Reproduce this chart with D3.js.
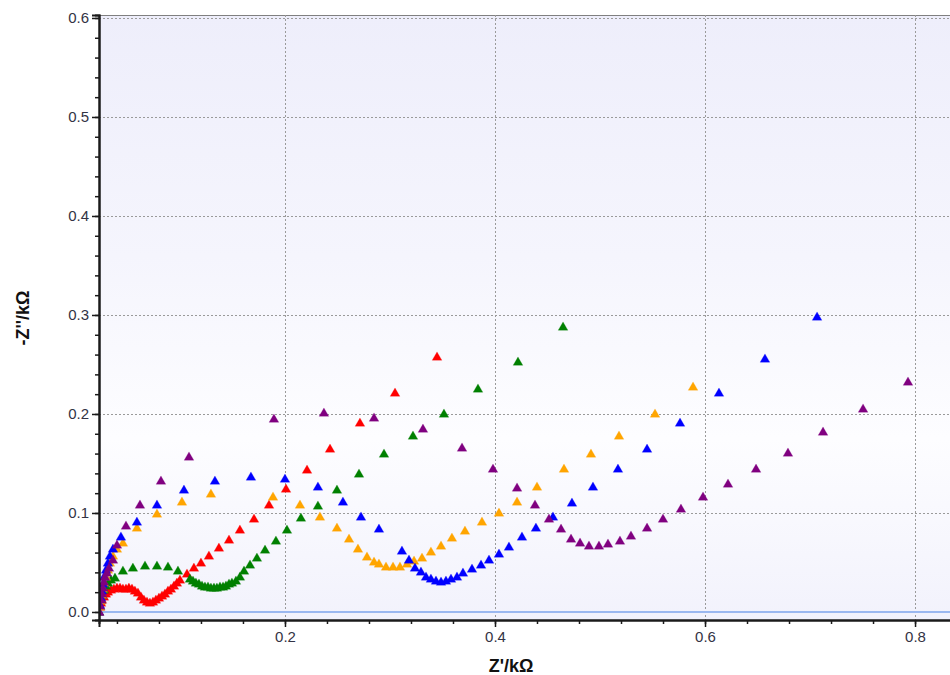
<!DOCTYPE html>
<html>
<head>
<meta charset="utf-8">
<script src="https://cdn.jsdelivr.net/npm/d3@7"></script>
<style>
  html, body { margin: 0; padding: 0; background: #ffffff; }
  svg { display: block; }
  text { font-family: "Liberation Sans", Arial, sans-serif; }
</style>
</head>
<body>
<svg id="chart" width="950" height="675"></svg>
<script>
// ---------------- DATA (Z'/kΩ, -Z''/kΩ) ----------------
const redSeries = [[.0229,0],[.0238,.005],[.0248,.009],[.0257,.0121],[.0276,.0152],[.0295,.0182],[.0314,.0202],[.0343,.0222],[.0371,.0232],[.04,.0242],[.0429,.0242],[.0457,.0232],[.0486,.0232],[.0514,.0242],[.0543,.0232],[.0571,.0212],[.06,.0192],[.0629,.0152],[.0657,.0121],[.0686,.0101],[.0714,.009],[.0743,.0101],[.0771,.0121],[.08,.0141],[.0829,.0162],[.0857,.0182],[.0886,.0212],[.0914,.0232],[.0943,.0263],[.0971,.0293],[.1,.0323],[.1067,.0384],[.1133,.0444],[.12,.0495],[.1276,.0566],[.1371,.0646],[.1467,.0727],[.1571,.0828],[.1705,.0939],[.1848,.1081],[.201,.1242],[.221,.1434],[.2429,.1646],[.2714,.1909],[.3048,.2212],[.3448,.2576]];

const greenSeries = [[.0229,0],[.0238,.006],[.0248,.0121],[.0257,.0172],[.0276,.0222],[.0295,.0263],[.0314,.0293],[.0343,.0323],[.0381,.0343],[.0457,.0414],[.0552,.0444],[.0667,.0465],[.0781,.0465],[.0886,.0455],[.0981,.0414],[.1095,.0333],[.1124,.0313],[.1152,.0293],[.1181,.0283],[.121,.0263],[.1238,.0253],[.1267,.0253],[.1295,.0242],[.1324,.0242],[.1352,.0242],[.1381,.0253],[.141,.0253],[.1438,.0263],[.1467,.0283],[.1495,.0293],[.1533,.0313],[.1571,.0354],[.161,.0414],[.1667,.0475],[.1733,.0545],[.181,.0626],[.1914,.0717],[.2019,.0828],[.2152,.0949],[.2314,.1071],[.2495,.1232],[.2705,.1394],[.2943,.1596],[.3219,.1778],[.3514,.2],[.3838,.2253],[.4219,.2525],[.4648,.2879]];

const orangeSeries = [[.0229,0],[.0238,.005],[.0248,.0111],[.0257,.0172],[.0267,.0232],[.0276,.0293],[.0295,.0354],[.0314,.0424],[.0333,.0495],[.0362,.0566],[.04,.0636],[.0457,.0697],[.059,.0848],[.0781,.099],[.1019,.1111],[.1295,.1192],[.1886,.1162],[.2143,.1081],[.2333,.096],[.2495,.0848],[.261,.0737],[.2695,.0636],[.2781,.0556],[.2848,.0505],[.2895,.0485],[.2962,.0455],[.3029,.0455],[.3095,.0455],[.3162,.0485],[.3229,.0515],[.3305,.0545],[.339,.0606],[.3486,.0667],[.359,.0747],[.3714,.0818],[.3876,.0909],[.4038,.1],[.421,.1111],[.44,.1263],[.4657,.1444],[.4914,.1596],[.5181,.1778],[.5524,.2],[.5886,.2273]];

const blueSeries = [[.0229,0],[.0238,.0071],[.0248,.0141],[.0257,.0212],[.0267,.0283],[.0276,.0354],[.0295,.0424],[.0314,.0495],[.0333,.0566],[.0362,.0636],[.0438,.0758],[.059,.0909],[.0781,.1081],[.1038,.1232],[.1333,.1323],[.1676,.1364],[.2,.1343],[.2314,.1263],[.2552,.1111],[.2724,.096],[.2895,.0838],[.3114,.0616],[.3181,.0525],[.3238,.0444],[.3295,.0404],[.3343,.0354],[.339,.0333],[.3438,.0313],[.3486,.0303],[.3533,.0313],[.3581,.0333],[.3638,.0354],[.3695,.0394],[.3781,.0434],[.3867,.0475],[.3943,.0525],[.4038,.0586],[.4133,.0657],[.4257,.0758],[.439,.0848],[.4552,.096],[.4733,.1101],[.4933,.1263],[.5171,.1444],[.5448,.1646],[.5762,.1909],[.6133,.2212],[.6571,.2556],[.7067,.298]];

const purpleSeries = [[.0229,0],[.0238,.006],[.0248,.0121],[.0257,.0182],[.0267,.0242],[.0276,.0303],[.0286,.0354],[.0305,.0394],[.0324,.0444],[.0362,.0525],[.04,.0677],[.0486,.0869],[.0619,.1081],[.0819,.1323],[.1086,.1566],[.1895,.1949],[.2371,.201],[.2848,.196],[.3314,.1848],[.3686,.1657],[.3981,.1444],[.421,.1253],[.4381,.1081],[.4514,.0939],[.4629,.0838],[.4724,.0737],[.481,.0697],[.4895,.0667],[.499,.0667],[.5076,.0687],[.519,.0717],[.5295,.0768],[.5448,.0848],[.56,.0939],[.5771,.104],[.5981,.1162],[.6219,.1293],[.6486,.1444],[.679,.1606],[.7124,.1818],[.7505,.2051],[.7933,.2323]];

const seriesColors = ["#ff0000", "#008000", "#ffa500", "#0000ff", "#800080"];
const xMajorTicks = [0.2, 0.4, 0.6, 0.8];
const xMinorTicks = d3.range(1, 21).map(i => +(i * 0.04).toFixed(2));
const yMajorTicks = [0.0, 0.1, 0.2, 0.3, 0.4, 0.5, 0.6];
const yMinorTicks = d3.range(0, 31).map(i => +(i * 0.02).toFixed(2));
const xDomain = [0.0229, 0.8352];
const yDomain = [-0.0081, 0.603];
const xTitle = "Z'/kΩ";
const yTitle = "-Z''/kΩ";

// ---------------- LAYOUT ----------------
const L = 99, T = 15, R = 952, B = 620;
const svg = d3.select("#chart");
const x = d3.scaleLinear().domain(xDomain).range([L, R]);
const y = d3.scaleLinear().domain(yDomain).range([B, T]);

const defs = svg.append("defs");
const grad = defs.append("linearGradient").attr("id", "bg").attr("x1", 0).attr("y1", 0).attr("x2", 0).attr("y2", 1);
[[0, "#eeeefb"], [0.4, "#f5f5fd"], [0.7, "#fdfdff"], [1, "#f2f2fc"]].forEach(([o, c]) =>
  grad.append("stop").attr("offset", o).attr("stop-color", c));
defs.append("clipPath").attr("id", "clip").append("rect")
  .attr("x", L).attr("y", T).attr("width", R - L).attr("height", B - T);

svg.append("rect").attr("x", L).attr("y", T).attr("width", R - L).attr("height", B - T)
  .attr("fill", "url(#bg)");
// top border
svg.append("line").attr("x1", L).attr("x2", R).attr("y1", T + 0.5).attr("y2", T + 0.5)
  .attr("stroke", "#808080").attr("stroke-width", 1);

// grid
const grid = svg.append("g");
grid.selectAll(".gx").data(xMajorTicks).join("line")
  .attr("x1", d => Math.round(x(d)) + 0.5).attr("x2", d => Math.round(x(d)) + 0.5)
  .attr("y1", T).attr("y2", B)
  .attr("stroke", "#9a9a9a").attr("stroke-dasharray", "2,2");
grid.selectAll(".gy").data(yMajorTicks.filter(d => d > 0)).join("line")
  .attr("y1", d => Math.round(y(d)) + 0.5).attr("y2", d => Math.round(y(d)) + 0.5)
  .attr("x1", L).attr("x2", R)
  .attr("stroke", "#9a9a9a").attr("stroke-dasharray", "2,2");

// zero line
svg.append("line").attr("x1", L).attr("x2", R).attr("y1", y(0)).attr("y2", y(0))
  .attr("stroke", "#9bb8f0").attr("stroke-width", 2);

// points
const plotG = svg.append("g").attr("clip-path", "url(#clip)");
const tri = d3.symbol().type(d3.symbolTriangle).size(40);
[redSeries, greenSeries, orangeSeries, blueSeries, purpleSeries].forEach((s, i) => {
  plotG.append("g").selectAll("path").data(s).join("path")
    .attr("d", tri)
    .attr("transform", d => `translate(${x(d[0])},${y(d[1]) + 0.5})`)
    .attr("fill", seriesColors[i])
    .attr("stroke", seriesColors[i]).attr("stroke-opacity", 0.25).attr("stroke-width", 1);
});

// axes
const axisColor = "#1a1a1a";
const yAxis = svg.append("g").attr("transform", `translate(${L},0)`)
  .call(d3.axisLeft(y).tickValues(yMajorTicks).tickSize(7).tickPadding(3).tickFormat(d3.format(".1f")));
const yAxisMinor = svg.append("g").attr("transform", `translate(${L},0)`)
  .call(d3.axisLeft(y).tickValues(yMinorTicks).tickSize(4).tickFormat(""));
const xAxis = svg.append("g").attr("transform", `translate(0,${B})`)
  .call(d3.axisBottom(x).tickValues(xMajorTicks).tickSize(7).tickPadding(4).tickFormat(d3.format(".1f")));
const xAxisMinor = svg.append("g").attr("transform", `translate(0,${B})`)
  .call(d3.axisBottom(x).tickValues(xMinorTicks).tickSize(4).tickFormat(""));
[yAxis, yAxisMinor, xAxis, xAxisMinor].forEach(g => {
  g.select(".domain").attr("stroke", axisColor).attr("stroke-width", 2);
  g.selectAll(".tick line").attr("stroke", axisColor).attr("stroke-width", 1.5);
  g.selectAll("text").attr("font-size", 15).attr("fill", "#333344")
    .attr("font-family", "'Liberation Sans', Arial, sans-serif");
});

// titles
svg.append("text").attr("x", 511).attr("y", 672).attr("text-anchor", "middle")
  .attr("font-size", 18).attr("font-weight", "bold").attr("fill", "#111").text(xTitle);
svg.append("text").attr("transform", "translate(29,318) rotate(-90)").attr("text-anchor", "middle")
  .attr("font-size", 18).attr("font-weight", "bold").attr("fill", "#111").text(yTitle);
</script>
</body>
</html>
